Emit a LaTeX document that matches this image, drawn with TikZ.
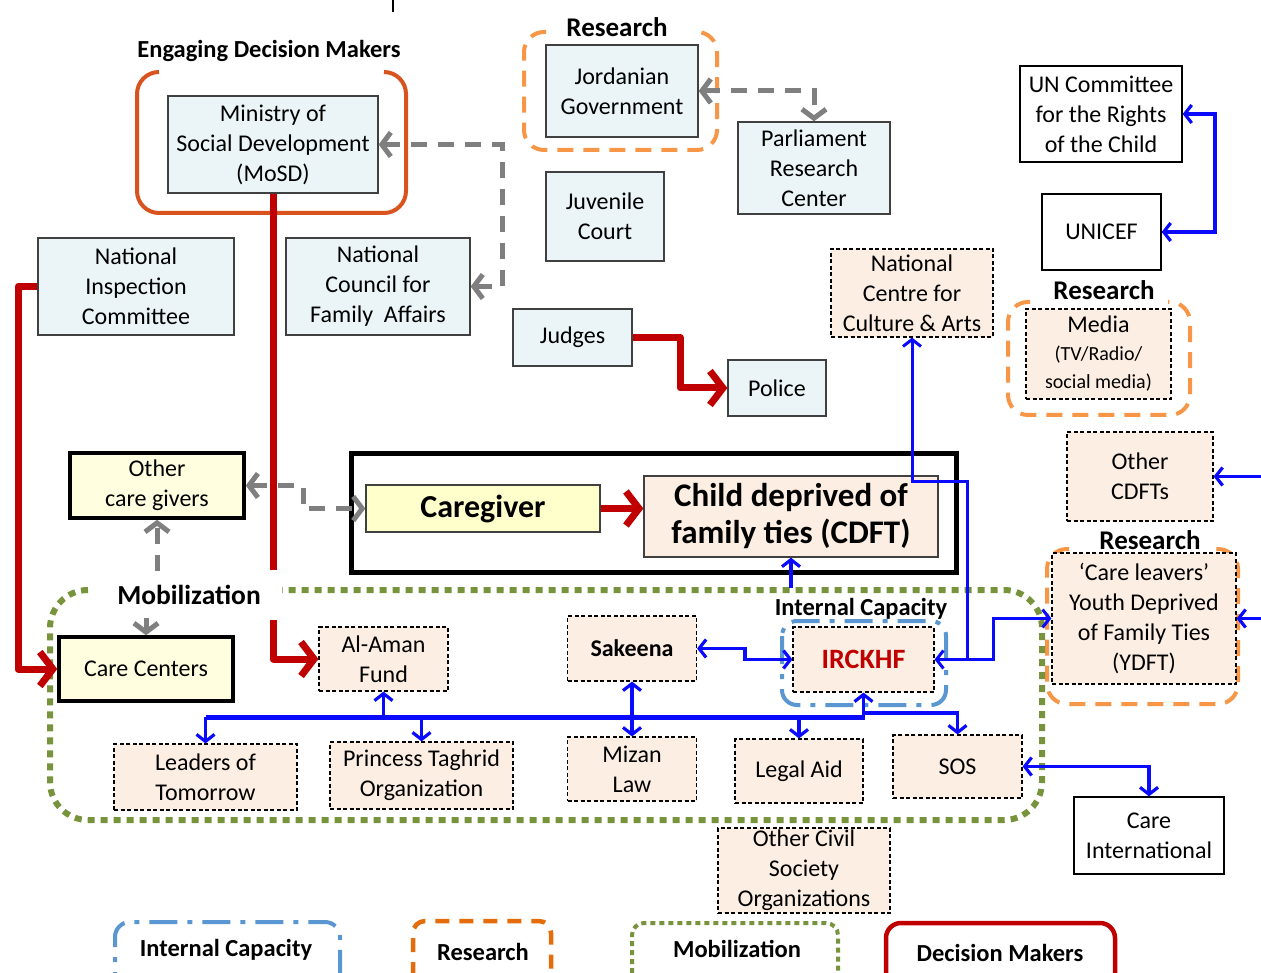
\documentclass[tikz,border=0pt]{standalone}
\usepackage{fontspec}
\setmainfont{Carlito}
\usetikzlibrary{arrows.meta}
\definecolor{bluefill}{HTML}{EBF5F8}
\definecolor{peach}{HTML}{FCEEE2}
\definecolor{yfillA}{HTML}{FFFFCC}
\definecolor{yfillB}{HTML}{FFFFE0}
\definecolor{boxgray}{HTML}{404040}
\definecolor{dmorange}{HTML}{D9531E}
\definecolor{resorange}{HTML}{F79646}
\definecolor{resorangeB}{HTML}{E46C0A}
\definecolor{icblue}{HTML}{5A96D2}
\definecolor{mobgreen}{HTML}{77933C}
\definecolor{cred}{HTML}{C00000}
\definecolor{cgray}{HTML}{7F7F7F}
\definecolor{cblue}{HTML}{0A0AFF}
\begin{document}
\begin{tikzpicture}[x=1pt,y=-1pt,
  box/.style={draw=boxgray, line width=1.3pt, align=center, inner sep=0pt, font=\fontsize{24}{30}\selectfont},
  bbox/.style={box, fill=bluefill},
  pbox/.style={box, draw=black, fill=peach, dash pattern=on 4pt off 2.5pt, line width=1.1pt},
  wbox/.style={box, draw=black, fill=white},
  ybox/.style={box, draw=black, fill=yfillB, line width=3.5pt},
  lbl/.style={font=\bfseries\fontsize{24.5}{30}\selectfont, inner sep=1pt},
  redline/.style={draw=cred, line width=7pt, line join=round, arrows={-Straight Barb[length=13pt,width=34pt]}},
  grayline/.style={draw=cgray, line width=5pt, dash pattern=on 16pt off 11pt, arrows={Straight Barb[length=9pt,width=24pt]-Straight Barb[length=9pt,width=24pt]}},
  blueline/.style={draw=cblue, line width=3.2pt, arrows={Straight Barb[length=7pt,width=18pt]-Straight Barb[length=7pt,width=18pt]}},
  dmgroup/.style={draw=dmorange, line width=4pt, rounded corners=22pt},
  resgroup/.style={draw=resorange, line width=4pt, dash pattern=on 16pt off 10pt, rounded corners=20pt},
  icgroup/.style={draw=icblue, line width=4pt, dash pattern=on 28pt off 10pt on 5pt off 10pt, rounded corners=15pt},
  mobgroup/.style={draw=mobgreen, line width=6pt, dash pattern=on 7pt off 6pt, rounded corners=38pt}
]
\useasboundingbox (0,0) rectangle (1261,973);
\clip (0,0) rectangle (1261,973);

% small tick at top
\draw[line width=1.5pt] (393,-2) -- (393,12);

% ---------- group outlines ----------
\draw[dmgroup] (159,72) -- (137,72) -- (137,213) -- (406,213) -- (406,72) -- (384,72);
\draw[resgroup] (546,32) -- (524,32) -- (524,150) -- (717,150) -- (717,32) -- (695,32);
\draw[resgroup] (1030,302) -- (1008,302) -- (1008,415) -- (1190,415) -- (1190,302) -- (1168,302);
\draw[resgroup] (1069,549) -- (1047,549) -- (1047,704) -- (1238,704) -- (1238,549) -- (1216,549);
\draw[mobgroup] (88,590) -- (50,590) -- (50,820) -- (1042,820) -- (1042,590) -- (282,590);
\draw[icgroup] (782,621) rectangle (946,705);

% ---------- labels ----------
\node[lbl] (l-edm) at (269,51) {Engaging Decision Makers};
\node[lbl, font=\bfseries\fontsize{27}{30}\selectfont] (l-res1) at (617,27) {Research};
\node[lbl, font=\bfseries\fontsize{27}{30}\selectfont] (l-res2) at (1104,290) {Research};
\node[lbl, font=\bfseries\fontsize{27}{30}\selectfont] (l-res3) at (1150,540) {Research};
\node[lbl, font=\bfseries\fontsize{27.5}{30}\selectfont] (l-mob) at (189,595) {Mobilization};
\node[lbl] (l-ic) at (861,609) {Internal Capacity};

% ---------- nodes ----------
\node[bbox, minimum width=210pt, minimum height=97pt] (mosd) at (273,144.5) {Ministry of\\Social Development\\(MoSD)};
\node[bbox, minimum width=152pt, minimum height=92pt] (jord) at (622,91) {Jordanian\\Government};
\node[bbox, minimum width=152pt, minimum height=92pt] (parl) at (814,168) {Parliament\\Research\\Center};
\node[bbox, minimum width=118pt, minimum height=89pt] (juv) at (605,216.5) {Juvenile\\Court};
\node[bbox, minimum width=196pt, minimum height=97pt] (nic) at (136,286.5) {National\\Inspection\\Committee};
\node[bbox, minimum width=184pt, minimum height=97pt] (ncfa) at (378,286.5) {National\\Council for\\Family\ \ Affairs};
\node[bbox, minimum width=119pt, minimum height=57pt] (judges) at (572.5,337.5) {Judges};
\node[bbox, minimum width=98pt, minimum height=56pt] (police) at (777,388) {Police};
\node[wbox, minimum width=162pt, minimum height=96pt] (un) at (1101,114) {UN Committee\\for the Rights\\of the Child};
\node[wbox, minimum width=119pt, minimum height=76pt] (unicef) at (1101.5,232) {UNICEF};
\node[pbox, minimum width=162pt, minimum height=88pt] (ncca) at (912,293) {National\\Centre for\\Culture \& Arts};
\node[pbox, minimum width=145pt, minimum height=90pt, font=\fontsize{24}{28}\selectfont] (media) at (1098.5,354) {Media\\{\fontsize{20}{26}\selectfont (TV/Radio/}\\{\fontsize{20}{26}\selectfont social media)}};
\node[pbox, minimum width=146pt, minimum height=89pt] (ocdft) at (1140,476.5) {Other\\CDFTs};
\node[pbox, minimum width=184pt, minimum height=131pt] (ydft) at (1144,618.5) {‘Care leavers’\\Youth Deprived\\of Family Ties\\(YDFT)};

\node[draw=black, line width=5pt, minimum width=605pt, minimum height=119pt, inner sep=0pt] (core) at (653.5,512.5) {};
\node[box, fill=yfillA, minimum width=234pt, minimum height=47pt, font=\bfseries\fontsize{32}{37}\selectfont] (cg) at (483,508.5) {Caregiver};
\node[box, fill=peach, draw=boxgray, minimum width=294pt, minimum height=81pt, font=\bfseries\fontsize{33}{37}\selectfont] (cdft) at (791,516.5) {Child deprived of\\family ties (CDFT)};

\node[ybox, minimum width=174pt, minimum height=65pt] (ocg) at (157,485.5) {Other\\care givers};
\node[ybox, minimum width=174pt, minimum height=64pt] (cc) at (146,669) {Care Centers};
\node[pbox, minimum width=129pt, minimum height=64pt] (alaman) at (383.5,659) {Al-Aman\\Fund};
\node[pbox, minimum width=129pt, minimum height=65pt, font=\bfseries\fontsize{24}{30}\selectfont] (sakeena) at (632,648.5) {Sakeena};
\node[pbox, minimum width=141pt, minimum height=65pt, font=\bfseries\fontsize{28}{30}\selectfont, text=cred] (irckhf) at (863.5,659.5) {IRCKHF};
\node[pbox, minimum width=183pt, minimum height=66pt] (lot) at (205.5,777) {Leaders of\\Tomorrow};
\node[pbox, minimum width=183pt, minimum height=67pt] (pto) at (421.5,775.5) {Princess Taghrid\\Organization};
\node[pbox, minimum width=129pt, minimum height=64pt] (mizan) at (632,769) {Mizan\\Law};
\node[pbox, minimum width=128pt, minimum height=64pt] (legal) at (799,771) {Legal Aid};
\node[pbox, minimum width=129pt, minimum height=63pt] (sos) at (957.5,766.5) {SOS};
\node[wbox, minimum width=150pt, minimum height=77pt] (careint) at (1149,835.5) {Care\\International};
\node[pbox, minimum width=172pt, minimum height=85pt] (ocso) at (804,870.5) {Other Civil\\Society\\Organizations};

% ---------- red connectors ----------
\coordinate (r1) at (273,570);
\coordinate (r2) at (273,620);
\coordinate (r3) at (18,286.5);
\coordinate (j1) at (680,337.5);
\draw[redline, arrows=-] (mosd.south) -- (r1);
\draw[redline] (r2) |- (alaman.west);
\draw[redline] (nic.west) -- (r3) |- (cc.west);
\draw[redline] (cg.east) -- (cg.east -| cdft.west);
\draw[redline] (judges.east) -- (j1) |- (police.west);

% ---------- gray connectors ----------
\coordinate (g1) at (814,91);
\coordinate (g2) at (502,144.5);
\coordinate (g3) at (303,485.5);
\coordinate (g4) at (157,571);
\coordinate (g5) at (146,618);
\draw[grayline] (jord.east) -- (g1) -- (parl.north);
\draw[grayline] (mosd.east) -- (g2) |- (ncfa.east);
\draw[grayline] (ocg.east) -- (g3) |- (cg.west);
\draw[grayline, arrows={-Straight Barb[length=9pt,width=24pt]}] (g4) -- (ocg.south);
\draw[grayline, arrows={-Straight Barb[length=9pt,width=24pt]}, dash pattern=on 6pt off 0pt] (g5) -- (cc.north);

% ---------- blue connectors ----------
\coordinate (u1) at (1215,114);
\draw[blueline] (un.east) -- (u1) |- (unicef.east);
\coordinate (e1) at (1266,476.5);
\coordinate (e2) at (1266,618.5);
\draw[blueline, arrows={-Straight Barb[length=7pt,width=18pt]}] (e1) -- (ocdft.east);
\draw[blueline, arrows={-Straight Barb[length=7pt,width=18pt]}] (e2) -- (ydft.east);
\coordinate (n1) at (912,481);
\coordinate (n2) at (967,481);
\coordinate (n3) at (967,659.5);
\coordinate (n4) at (993,659.5);
\draw[blueline, line width=3pt] (ncca.south) -- (n1) -- (n2) -- (n3) -- (irckhf.east);
\draw[blueline, line width=3pt, arrows={-Straight Barb[length=7pt,width=18pt]}] (n3) -- (n4) |- (ydft.west);
\coordinate (c1) at (791,588);
\draw[blueline, arrows={-Straight Barb[length=7pt,width=18pt]}] (c1) -- (cdft.south);
\coordinate (s1) at (745,648.5);
\draw[blueline] (sakeena.east) -- (s1) |- (irckhf.west);
\coordinate (b1) at (205.5,717);
\coordinate (b2) at (865,717);
\coordinate (b3) at (865,713);
\draw[draw=cblue, line width=5pt] (b1) -- (b2);
\draw[blueline, arrows={-Straight Barb[length=7pt,width=18pt]}] (b1) -- (lot.north);
\draw[blueline, arrows={-Straight Barb[length=7pt,width=18pt]}] (alaman.south |- b1) -- (alaman.south);
\draw[blueline, arrows={-Straight Barb[length=7pt,width=18pt]}] (pto.north |- b1) -- (pto.north);
\draw[blueline] (sakeena.south) -- (mizan.north);
\draw[blueline, arrows={-Straight Barb[length=7pt,width=18pt]}] (legal.north |- b1) -- (legal.north);
\draw[blueline, arrows={-Straight Barb[length=7pt,width=18pt]}] (irckhf.south |- b1) -- (irckhf.south);
\draw[blueline, arrows={-Straight Barb[length=7pt,width=18pt]}] (b3) -| (sos.north);
\coordinate (k1) at (1149,766.5);
\draw[blueline] (sos.east) -- (k1) -- (careint.north);

% ---------- legend ----------
\draw[icgroup] (115,1000) -- (115,922) -- (340,922) -- (340,1000);
\draw[resgroup, draw=resorangeB, line width=4.5pt, dash pattern=on 14pt off 10pt, rounded corners=12pt] (413,1000) -- (413,921) -- (551,921) -- (551,1000);
\draw[mobgroup, line width=4pt, dash pattern=on 5pt off 4pt, rounded corners=12pt] (632,1000) -- (632,923) -- (838,923) -- (838,1000);
\draw[draw=cred, line width=4.5pt, rounded corners=15pt] (886,1000) -- (886,923) -- (1115,923) -- (1115,1000);
\node[lbl] (k-ic) at (226,950) {Internal Capacity};
\node[lbl] (k-res) at (483,952) {Research};
\node[lbl] (k-mob) at (737,949) {Mobilization};
\node[lbl] (k-dm) at (1000,953) {Decision Makers};
\end{tikzpicture}
\end{document}
